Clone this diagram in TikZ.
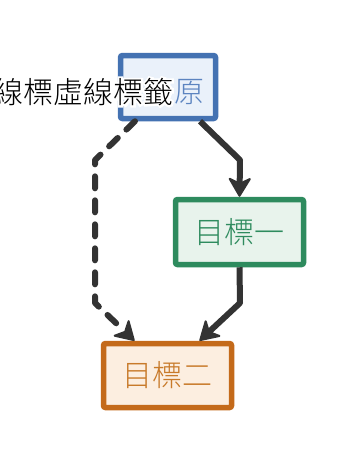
\documentclass[tikz,border=0pt]{standalone}
\usepackage{fontspec}
\usepackage{tikz}
\usetikzlibrary{arrows.meta}

\setmainfont{Noto Sans CJK TC}[UprightFont={* Light}]
\newfontfamily\halofont[FakeBold=12]{Noto Sans CJK TC}

\definecolor{srcline}{RGB}{68,114,178}
\definecolor{srcfill}{RGB}{234,241,250}
\definecolor{srctext}{RGB}{92,132,192}
\definecolor{oneline}{RGB}{46,139,94}
\definecolor{onefill}{RGB}{232,243,236}
\definecolor{twoline}{RGB}{196,106,26}
\definecolor{twofill}{RGB}{252,238,224}
\definecolor{twotext}{RGB}{200,122,42}
\definecolor{edgegray}{RGB}{51,51,51}

\tikzset{
    box/.style={draw, line width=5.5pt, rounded corners=2pt, inner sep=0pt},
    flow/.style={draw=edgegray, line width=6pt, line join=round,
        >={Stealth[length=21pt, width=25pt, inset=6pt, line width=2pt, round]}, ->},
    dashflow/.style={flow, line cap=round, dash pattern=on 12pt off 12pt}
}

\begin{document}
\begin{tikzpicture}[x=1pt, y=-1pt, font=\fontsize{30}{30}\selectfont]

    \useasboundingbox (0,0) rectangle (360,464);

    % boxes
    \node[box, draw=srcline, fill=srcfill, minimum width=95pt, minimum height=63pt] (src) at (168,87) {};
    \node[text=srctext] (srctxt) at (189,92) {原};

    \node[box, draw=oneline, fill=onefill, text=oneline, minimum width=128pt, minimum height=65pt] (one) at (239.5,232) {目標一};

    \node[box, draw=twoline, fill=twofill, text=twotext, minimum width=128pt, minimum height=64pt] (two) at (167.5,375.5) {目標二};

    % bends
    \coordinate (r1) at (240,160);
    \coordinate (r2) at (240,303);
    \coordinate (l1) at (95,160);
    \coordinate (l2) at (95,303);

    \draw[flow] ([xshift=32pt]src.south) -- (r1) -- (one.north);
    \draw[flow] (one.south) -- (r2) -- ([xshift=32pt]two.north);
    \draw[dashflow] ([xshift=-33pt]src.south) -- (l1) -- (l2) -- ([xshift=-33pt]two.north);

    % label with halo
    \node[anchor=east, text=white, font=\fontsize{30}{30}\halofont] (halo) at (177,92) {線標虛線標籤};
    \node[anchor=east] (lbl) at (177,92) {線標虛線標籤};

\end{tikzpicture}
\end{document}
